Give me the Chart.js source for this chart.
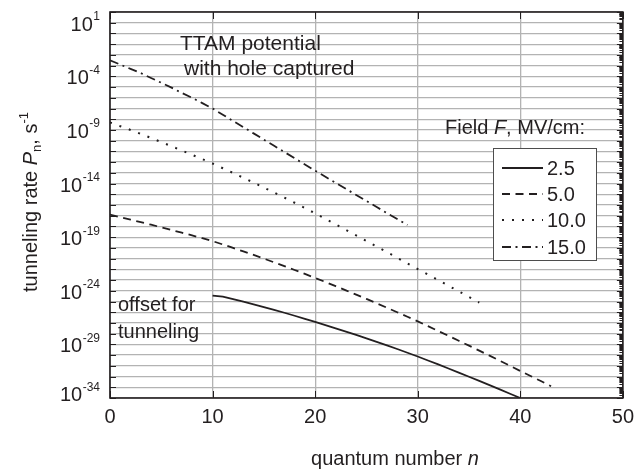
<!DOCTYPE html>
<html>
<head>
<meta charset="utf-8">
<script src="https://cdn.jsdelivr.net/npm/chart.js@4.4.1/dist/chart.umd.min.js"></script>
<style>
html,body{margin:0;padding:0;background:#fff;}
#wrap{width:641px;height:471px;position:relative;}
</style>
</head>
<body>
<div id="wrap"><canvas id="c" width="641" height="471"></canvas></div>
<script>
// ---- data (log10 of tunneling rate) ----
const fieldLabels = ['2.5', '5.0', '10.0', '15.0'];

const n_25 = [10,11,12,13,14,15,16,17,18,19,20,21,22,23,24,25,26,27,28,29,30,31,32,33,34,35,36,37,38,39,40];
const logP_25 = [-24.45,-24.55,-24.78,-25.02,-25.27,-25.52,-25.78,-26.05,-26.33,-26.61,-26.9,-27.2,-27.5,-27.8,-28.12,-28.44,-28.77,-29.1,-29.43,-29.78,-30.13,-30.5,-30.87,-31.25,-31.63,-32.02,-32.41,-32.8,-33.2,-33.6,-34.0];

const n_50 = [0,1,2,3,4,5,6,7,8,9,10,11,12,13,14,15,16,17,18,19,20,21,22,23,24,25,26,27,28,29,30,31,32,33,34,35,36,37,38,39,40,41,42,43];
const logP_50 = [-16.9,-17.13,-17.36,-17.6,-17.84,-18.08,-18.33,-18.58,-18.84,-19.1,-19.37,-19.68,-20.0,-20.33,-20.66,-21.0,-21.35,-21.7,-22.06,-22.43,-22.8,-23.18,-23.57,-23.96,-24.36,-24.76,-25.17,-25.58,-26.0,-26.42,-26.85,-27.3,-27.75,-28.2,-28.66,-29.12,-29.58,-30.05,-30.52,-31.0,-31.48,-31.95,-32.42,-32.9];

const n_100 = [0,1,2,3,4,5,6,7,8,9,10,11,12,13,14,15,16,17,18,19,20,21,22,23,24,25,26,27,28,29,30,31,32,33,34,35,36];
const logP_100 = [-8.3,-8.65,-9.0,-9.37,-9.75,-10.13,-10.52,-10.92,-11.32,-11.72,-12.13,-12.57,-13.01,-13.46,-13.91,-14.37,-14.84,-15.31,-15.79,-16.28,-16.78,-17.29,-17.8,-18.32,-18.84,-19.36,-19.88,-20.4,-20.92,-21.45,-21.97,-22.49,-23.01,-23.53,-24.05,-24.57,-25.1];

const n_150 = [0,1,2,3,4,5,6,7,8,9,10,11,12,13,14,15,16,17,18,19,20,21,22,23,24,25,26,27,28,29];
const logP_150 = [-2.5,-2.9,-3.3,-3.7,-4.15,-4.6,-5.05,-5.55,-6.0,-6.5,-7.0,-7.58,-8.16,-8.74,-9.32,-9.9,-10.48,-11.06,-11.64,-12.22,-12.8,-13.37,-13.93,-14.5,-15.06,-15.62,-16.19,-16.75,-17.31,-17.87];

const xTickValues = [0, 10, 20, 30, 40, 50];
const yTickExponents = [1, -4, -9, -14, -19, -24, -29, -34];
const yGridExponents = [2,1,0,-1,-2,-3,-4,-5,-6,-7,-8,-9,-10,-11,-12,-13,-14,-15,-16,-17,-18,-19,-20,-21,-22,-23,-24,-25,-26,-27,-28,-29,-30,-31,-32,-33,-34];

// ---- styling ----
const FONT = '"Liberation Sans", Arial, Helvetica, sans-serif';
const INK = '#231f20';
const GRID = '#b3b3b3';

function toPoints(xs, ls) { return xs.map((x, i) => ({ x: x, y: Math.pow(10, ls[i]) })); }

const dashes = [[], [8, 5.5], [2, 8], [9, 4.5, 2, 4.5]];
const datasets = [
  { label: fieldLabels[0], data: toPoints(n_25, logP_25), borderDash: dashes[0], borderWidth: 1.8 },
  { label: fieldLabels[1], data: toPoints(n_50, logP_50), borderDash: dashes[1], borderWidth: 1.8 },
  { label: fieldLabels[2], data: toPoints(n_100, logP_100), borderDash: dashes[2], borderWidth: 2 },
  { label: fieldLabels[3], data: toPoints(n_150, logP_150), borderDash: dashes[3], borderWidth: 1.8 }
].map(d => Object.assign(d, { borderColor: INK, backgroundColor: INK, pointRadius: 0, tension: 0, fill: false }));

function drawRich(ctx, parts, x, y, align) {
  let total = 0;
  parts.forEach(p => { ctx.font = (p.italic ? 'italic ' : '') + p.size + 'px ' + FONT; p.w = ctx.measureText(p.t).width; total += p.w; });
  let cx = align === 'center' ? x - total / 2 : (align === 'right' ? x - total : x);
  parts.forEach(p => {
    ctx.font = (p.italic ? 'italic ' : '') + p.size + 'px ' + FONT;
    ctx.textAlign = 'left';
    ctx.fillText(p.t, cx, y + (p.dy || 0));
    cx += p.w;
  });
}

const decorPlugin = {
  id: 'decor',
  afterDraw(chart) {
    const ctx = chart.ctx;
    const a = chart.chartArea;
    const xs = chart.scales.x, ys = chart.scales.y;
    ctx.save();
    ctx.fillStyle = INK;
    ctx.strokeStyle = INK;

    // ticks
    ctx.lineWidth = 1;
    ctx.beginPath();
    yGridExponents.forEach(e => {
      const y = Math.round(ys.getPixelForValue(Math.pow(10, e))) + 0.5;
      ctx.moveTo(a.left, y); ctx.lineTo(a.left + 6, y);
      ctx.moveTo(a.right, y); ctx.lineTo(a.right - 6, y);
      if (e > -34) {
        for (let k = 2; k <= 9; k++) {
          const ym = Math.round(ys.getPixelForValue(k * Math.pow(10, e - 1))) + 0.5;
          ctx.moveTo(a.right, ym); ctx.lineTo(a.right - 3.5, ym);
        }
      }
    });
    xTickValues.forEach(v => {
      const x = Math.round(xs.getPixelForValue(v)) + 0.5;
      ctx.moveTo(x, a.top); ctx.lineTo(x, a.top + 7);
      ctx.moveTo(x, a.bottom); ctx.lineTo(x, a.bottom - 7);
    });
    ctx.stroke();

    // frame
    ctx.lineWidth = 1.6;
    ctx.strokeRect(a.left, a.top, a.right - a.left, a.bottom - a.top);

    // y tick labels 10^e
    ctx.textBaseline = 'alphabetic';
    yTickExponents.forEach(e => {
      let y = ys.getPixelForValue(Math.pow(10, e));
      if (e === -34) y -= 5;
      const ex = String(e);
      ctx.font = '12px ' + FONT;
      const ew = ctx.measureText(ex).width;
      ctx.textAlign = 'left';
      ctx.fillText(ex, 100 - ew, y - 2.5);
      ctx.font = '20px ' + FONT;
      ctx.textAlign = 'right';
      ctx.fillText('10', 100 - ew - 0.5, y + 8);
    });

    // annotations
    ctx.font = '21px ' + FONT;
    ctx.textAlign = 'left';
    ctx.textBaseline = 'middle';
    ctx.fillText('TTAM potential', 180, 44);
    ctx.fillText('with hole captured', 184, 69);
    ctx.font = '20px ' + FONT;
    ctx.fillText('offset for', 118, 305);
    ctx.fillText('tunneling', 118, 332);
    drawRich(ctx, [
      { t: 'Field ', size: 20 },
      { t: 'F', size: 20, italic: true },
      { t: ', MV/cm:', size: 20 }
    ], 445, 128, 'left');

    // legend box
    const bx = 493, by = 148, bw = 103, bh = 112;
    ctx.fillStyle = '#ffffff';
    ctx.fillRect(bx, by, bw, bh);
    ctx.strokeStyle = '#4d4d4d';
    ctx.lineWidth = 1;
    ctx.strokeRect(bx + 0.5, by + 0.5, bw, bh);
    const rows = [168, 194, 220, 247];
    chart.data.datasets.forEach((d, i) => {
      const y = rows[i];
      ctx.strokeStyle = INK;
      ctx.lineWidth = d.borderWidth;
      ctx.setLineDash(d.borderDash);
      ctx.beginPath();
      ctx.moveTo(502, y); ctx.lineTo(543, y);
      ctx.stroke();
      ctx.setLineDash([]);
      ctx.fillStyle = INK;
      ctx.font = '20px ' + FONT;
      ctx.textAlign = 'left';
      ctx.textBaseline = 'middle';
      ctx.fillText(d.label, 547, y + 1);
    });

    // axis titles
    ctx.fillStyle = INK;
    ctx.textBaseline = 'alphabetic';
    drawRich(ctx, [
      { t: 'quantum number ', size: 20 },
      { t: 'n', size: 20, italic: true }
    ], 395, 465, 'center');

    ctx.save();
    ctx.translate(37, 202);
    ctx.rotate(-Math.PI / 2);
    drawRich(ctx, [
      { t: 'tunneling rate ', size: 20 },
      { t: 'P', size: 20, italic: true },
      { t: 'n', size: 13, dy: 4 },
      { t: ', s', size: 20 },
      { t: '-1', size: 13, dy: -9 }
    ], 0, 0, 'center');
    ctx.restore();

    ctx.restore();
  }
};

new Chart(document.getElementById('c'), {
  type: 'line',
  data: { datasets: datasets },
  options: {
    responsive: false,
    animation: false,
    events: [],
    layout: { padding: { left: 0, right: 11, top: 12, bottom: 0 } },
    plugins: { legend: { display: false }, tooltip: { enabled: false }, title: { display: false } },
    scales: {
      x: {
        type: 'linear', min: 0, max: 50,
        afterBuildTicks(s) { s.ticks = xTickValues.map(v => ({ value: v })); },
        ticks: { font: { size: 20, family: FONT }, color: INK, padding: 7, maxRotation: 0, autoSkip: false },
        grid: { color: GRID, lineWidth: 1.3, drawTicks: false },
        border: { display: false },
        afterFit(s) { s.height = 73; }
      },
      y: {
        type: 'logarithmic', min: 1e-34, max: 1e2,
        afterBuildTicks(s) { s.ticks = yGridExponents.map(e => ({ value: Math.pow(10, e) })); },
        ticks: { display: false },
        grid: { color: GRID, lineWidth: 1.3, drawTicks: false },
        border: { display: false },
        afterFit(s) { s.width = 110; }
      }
    }
  },
  plugins: [decorPlugin]
});
</script>
</body>
</html>
